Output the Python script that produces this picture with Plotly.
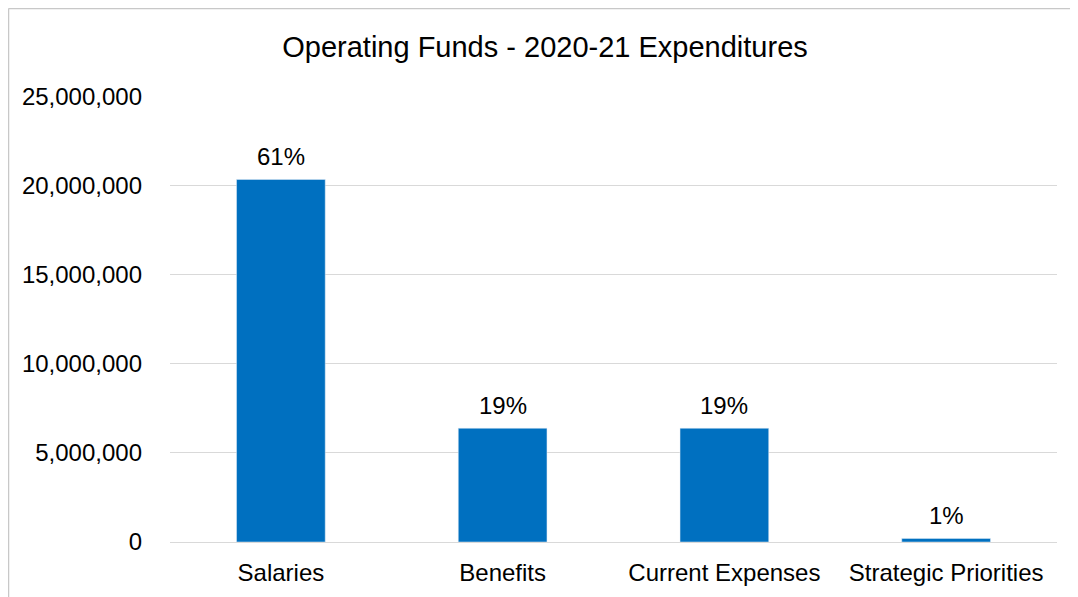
import plotly.graph_objects as go

categories = ["Salaries", "Benefits", "Current Expenses", "Strategic Priorities"]
values = [20330000, 6380000, 6380000, 200000]
labels = ["61%", "19%", "19%", "1%"]

FONT = "Liberation Sans, Arial"

# page has an 8px body margin, so figure is 8px smaller and margins shifted
W, H = 1070, 589
L, T, R, B = 162, 88, 21, 55
PW, PH = W - L - R, H - T - B

fig = go.Figure(go.Bar(
    x=categories, y=values,
    marker_color="#0070C0", width=0.4,
))

for c, v, t in zip(categories, values, labels):
    fig.add_annotation(x=c, y=v, text=t, showarrow=False, yanchor="bottom",
                       yshift=7, font=dict(family=FONT, size=24, color="#000000"))

bx = (0.5 - L) / PW
by = 1 + (T - 0.5) / PH

fig.update_layout(
    width=W, height=H,
    margin=dict(l=L, r=R, t=T, b=B, autoexpand=False),
    paper_bgcolor="white", plot_bgcolor="white",
    title=dict(text="Operating Funds - 2020-21 Expenditures", x=537 / W, xanchor="center",
               y=1 - 39 / H, yanchor="middle",
               font=dict(family=FONT, size=29, color="#000000")),
    font=dict(family=FONT, size=24, color="#000000"),
    showlegend=False,
    shapes=[
        dict(type="line", xref="paper", yref="paper", x0=bx, x1=1.1, y0=by, y1=by,
             line=dict(color="#c8c8c8", width=1.5)),
        dict(type="line", xref="paper", yref="paper", x0=bx, x1=bx, y0=by, y1=-0.3,
             line=dict(color="#c8c8c8", width=1.5)),
    ],
)
fig.update_xaxes(showgrid=False, showline=True, linecolor="#d9d9d9", linewidth=1,
                 ticks="", tickfont=dict(size=24), automargin=False, ticklabelstandoff=9)
fig.update_yaxes(range=[0, 25010000], dtick=5000000, tickformat=",d", showgrid=True,
                 gridcolor="#d9d9d9", gridwidth=1, zeroline=False, showline=False,
                 ticks="", ticklabelstandoff=27, tickfont=dict(size=24), automargin=False)

fig.write_html("out.html")
